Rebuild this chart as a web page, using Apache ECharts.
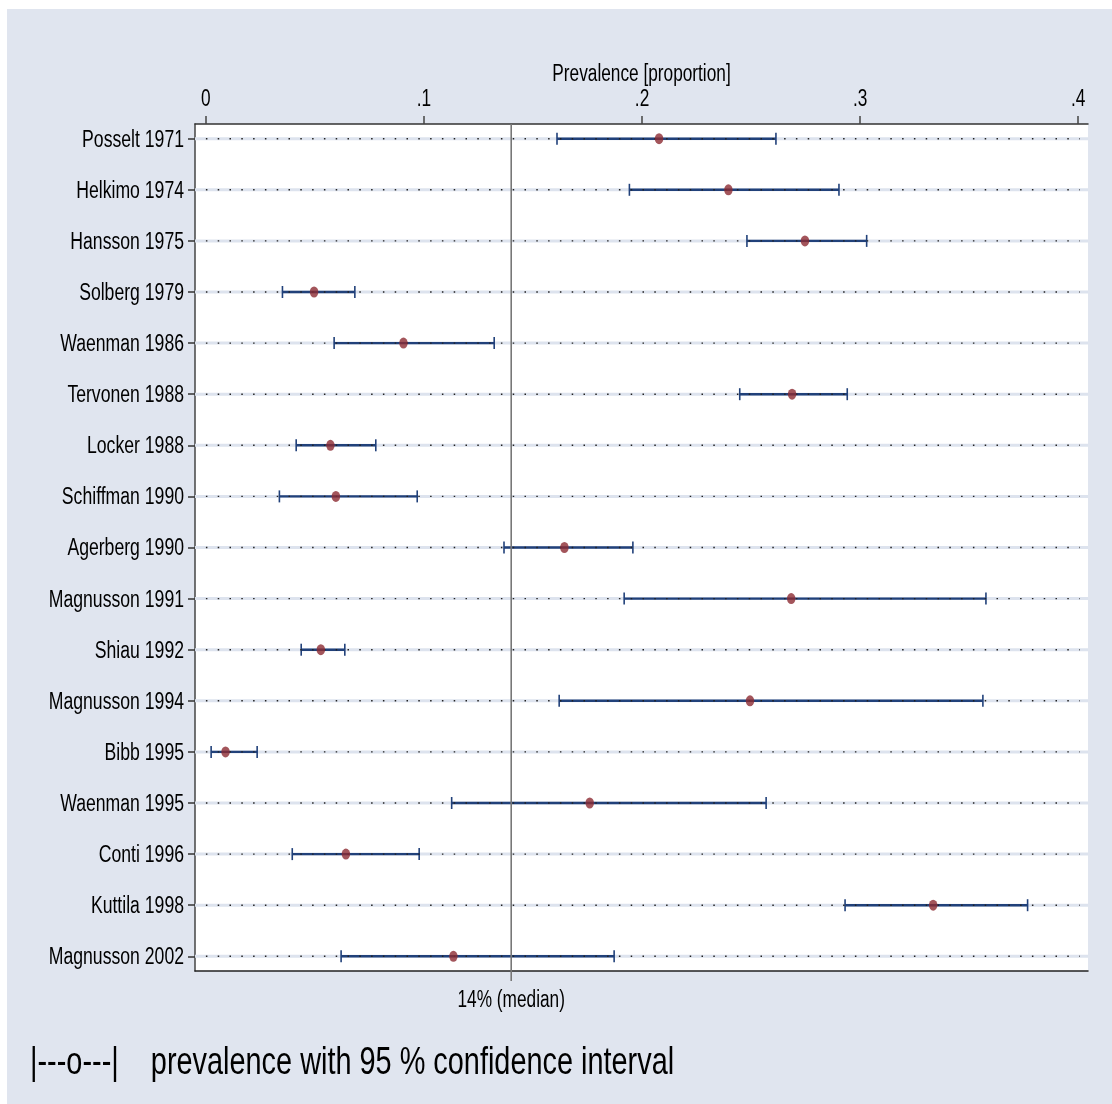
<!DOCTYPE html>
<html>
<head>
<meta charset="utf-8">
<script src="https://cdn.jsdelivr.net/npm/echarts@6/dist/echarts.min.js"></script>
<style>
html,body{margin:0;padding:0;background:#fff;}
#c{width:1112px;height:1104px;}
</style>
</head>
<body>
<div id="c"></div>
<script>
// ---- data ----
var studies = ['Posselt 1971','Helkimo 1974','Hansson 1975','Solberg 1979','Waenman 1986','Tervonen 1988','Locker 1988','Schiffman 1990','Agerberg 1990','Magnusson 1991','Shiau 1992','Magnusson 1994','Bibb 1995','Waenman 1995','Conti 1996','Kuttila 1998','Magnusson 2002'];
var prevalence = [0.2078,0.2396,0.2747,0.0496,0.0906,0.2688,0.0571,0.0596,0.1644,0.2684,0.0527,0.2495,0.0090,0.1760,0.0642,0.3335,0.1135];
var ciLow  = [0.1610,0.1942,0.2481,0.0351,0.0588,0.2448,0.0414,0.0337,0.1367,0.1918,0.0437,0.1620,0.0024,0.1127,0.0396,0.2931,0.0620];
var ciHigh = [0.2614,0.2903,0.3030,0.0683,0.1322,0.2941,0.0779,0.0969,0.1958,0.3577,0.0637,0.3563,0.0235,0.2569,0.0978,0.3768,0.1872];
var xTicks = [0,0.1,0.2,0.3,0.4];
var xTickLabels = ['0','.1','.2','.3','.4'];
var median = 0.14;
var medianLabel = '14% (median)';
var xTitle = 'Prevalence [proportion]';
var footnote = '|---o---|    prevalence with 95 % confidence interval';

var FONT = "'Liberation Sans',Arial,sans-serif";
var SX = 0.75; // narrow (condensed) lettering as in the original
var rows = studies.map(function(s,i){return i;});

var chart = echarts.init(document.getElementById('c'), null, {renderer:'canvas'});
var XMIN = -0.005, XMAX = 0.4045, YMIN = -0.2875, YMAX = 16.2875;

var option = {
  animation:false,
  backgroundColor:'#ffffff',
  graphic:[
    {type:'rect', left:7, top:9, z:-10, shape:{width:1105, height:1095}, style:{fill:'#e0e5ef'}},
    {type:'text', x:641.5, y:74.5, scaleX:SX, z:10,
     style:{text:xTitle, font:'23px '+FONT, fill:'#000', align:'center', verticalAlign:'middle'}},
    {type:'text', x:30, y:1063, scaleX:SX, z:10,
     style:{text:footnote, font:'38.5px '+FONT, fill:'#000', align:'left', verticalAlign:'middle'}}
  ],
  grid:{left:195, top:124, width:893, height:847, show:true, backgroundColor:'#ffffff', borderWidth:0},
  xAxis:[
    {type:'value', position:'top', min:XMIN, max:XMAX,
     axisLine:{show:true, onZero:false, lineStyle:{color:'#333', width:1.5}},
     axisTick:{show:true, customValues:xTicks, length:8, lineStyle:{color:'#444', width:1.5}},
     axisLabel:{show:false},
     splitLine:{show:false}},
    {type:'value', position:'bottom', min:XMIN, max:XMAX,
     axisLine:{show:true, onZero:false, lineStyle:{color:'#222', width:1.5}},
     axisTick:{show:false}, axisLabel:{show:false}, splitLine:{show:false}}
  ],
  yAxis:{type:'value', inverse:true, min:YMIN, max:YMAX,
     axisLine:{show:true, onZero:false, lineStyle:{color:'#444', width:1.5}},
     axisTick:{show:true, customValues:rows, length:7, lineStyle:{color:'#333', width:1.5}},
     axisLabel:{show:false},
     splitLine:{show:false}},
  series:[
    {type:'custom', name:'gridlight', xAxisIndex:0, z:1,
     data:rows.map(function(i){return [0,i];}),
     renderItem:function(params, api){
       var cs = params.coordSys; var y = api.coord([0, api.value(1)])[1];
       return {type:'line', shape:{x1:cs.x, y1:y, x2:cs.x+cs.width, y2:y}, style:{stroke:'#dde3ee', lineWidth:3}};
     }},
    {type:'custom', name:'ci', xAxisIndex:0, z:2,
     data:rows.map(function(i){return [ciLow[i], ciHigh[i], i];}),
     renderItem:function(params, api){
       var a = api.coord([api.value(0), api.value(2)]);
       var b = api.coord([api.value(1), api.value(2)]);
       var col = '#21417a';
       return {type:'group', children:[
         {type:'line', shape:{x1:a[0], y1:a[1], x2:b[0], y2:b[1]}, style:{stroke:col, lineWidth:2.4}},
         {type:'line', shape:{x1:a[0], y1:a[1]-6, x2:a[0], y2:a[1]+6}, style:{stroke:col, lineWidth:1.6}},
         {type:'line', shape:{x1:b[0], y1:b[1]-6, x2:b[0], y2:b[1]+6}, style:{stroke:col, lineWidth:1.6}}
       ]};
     }},
    {type:'custom', name:'dots', xAxisIndex:0, z:3,
     data:rows.map(function(i){return [xTicks[0], xTicks[xTicks.length-1], i];}),
     renderItem:function(params, api){
       var a = api.coord([api.value(0), api.value(2)]);
       var b = api.coord([api.value(1), api.value(2)]);
       return {type:'line', shape:{x1:a[0], y1:a[1], x2:b[0]+1.5, y2:b[1]},
         style:{stroke:'#222', lineWidth:1.4, lineDash:[1.5,10.3]}};
     }},
    {type:'custom', name:'median', xAxisIndex:0, z:4, clip:false,
     data:[[median]],
     renderItem:function(params, api){
       var cs = params.coordSys;
       var x = api.coord([api.value(0), 0])[0];
       return {type:'group', children:[
         {type:'line', shape:{x1:x, y1:cs.y, x2:x, y2:cs.y+cs.height+10}, style:{stroke:'#777', lineWidth:1.6}},
         {type:'text', x:x, y:cs.y+cs.height+30, scaleX:SX, style:{text:medianLabel, font:'23px '+FONT, fill:'#000', align:'center', verticalAlign:'middle'}}
       ]};
     }},
    {type:'custom', name:'rowLabels', xAxisIndex:0, z:6, clip:false,
     data:rows.map(function(i){return [0,i];}),
     renderItem:function(params, api){
       var cs = params.coordSys; var i = api.value(1);
       var y = api.coord([0, i])[1];
       return {type:'text', x:cs.x-11, y:y+1.5, scaleX:SX,
         style:{text:studies[i], font:'23.5px '+FONT, fill:'#000', align:'right', verticalAlign:'middle'}};
     }},
    {type:'custom', name:'tickLabels', xAxisIndex:0, z:6, clip:false,
     data:xTicks.map(function(v,k){return [v,k];}),
     renderItem:function(params, api){
       var cs = params.coordSys; var k = api.value(1);
       var x = api.coord([api.value(0), 0])[0];
       return {type:'text', x:x, y:cs.y-24, scaleX:SX,
         style:{text:xTickLabels[k], font:'23px '+FONT, fill:'#000', align:'center', verticalAlign:'middle'}};
     }},
    {type:'scatter', name:'prevalence', xAxisIndex:0, z:5,
     symbol:'circle', symbolSize:[8.5,11],
     itemStyle:{color:'#8c2b32'},
     data:rows.map(function(i){return [prevalence[i], i];})}
  ]
};
chart.setOption(option);
</script>
</body>
</html>
